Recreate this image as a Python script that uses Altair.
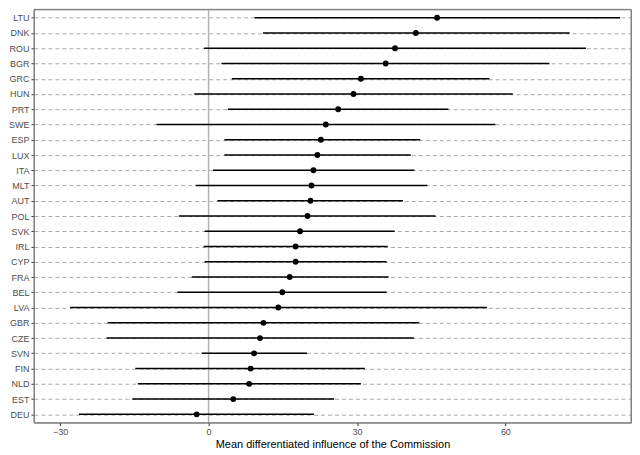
import altair as alt
import pandas as pd

countries = ["LTU", "DNK", "ROU", "BGR", "GRC", "HUN", "PRT", "SWE", "ESP", "LUX",
             "ITA", "MLT", "AUT", "POL", "SVK", "IRL", "CYP", "FRA", "BEL", "LVA",
             "GBR", "CZE", "SVN", "FIN", "NLD", "EST", "DEU"]
means = [46.2, 41.9, 37.7, 35.8, 30.8, 29.3, 26.2, 23.7, 22.7, 22.0,
         21.2, 20.8, 20.6, 20.0, 18.5, 17.6, 17.6, 16.4, 14.9, 14.1,
         11.1, 10.4, 9.2, 8.5, 8.2, 5.0, -2.4]
lower = [9.3, 11.0, -0.9, 2.6, 4.7, -2.9, 3.9, -10.5, 3.2, 3.2,
         0.9, -2.6, 1.8, -6.0, -0.8, -1.0, -0.8, -3.4, -6.3, -28.0,
         -20.4, -20.6, -1.4, -14.8, -14.3, -15.4, -26.2]
upper = [83.2, 73.0, 76.3, 68.9, 56.8, 61.5, 48.5, 58.0, 42.8, 40.9,
         41.6, 44.2, 39.3, 45.9, 37.6, 36.2, 36.0, 36.4, 36.0, 56.3,
         42.6, 41.5, 19.9, 31.6, 30.8, 25.4, 21.3]
x_ticks = [-30, 0, 30, 60]

df = pd.DataFrame({"country": countries, "mean": means, "lo": lower, "hi": upper})
zero = pd.DataFrame({"z": [0]})

FONT = "Liberation Sans"

xscale = alt.Scale(domain=[-35.3, 85.4], nice=False, zero=False)
yscale = alt.Scale(type="point", domain=countries, padding=0.55)

xaxis = alt.Axis(values=x_ticks, title="Mean differentiated influence of the Commission",
                 grid=False, labelFontSize=9, labelColor="#4d4d4d", titleFontSize=11,
                 titleColor="black", titleFontWeight="normal", tickColor="#333333",
                 tickSize=3, domain=False, labelPadding=2, titlePadding=2, labelFont=FONT,
                 titleFont=FONT)
yaxis = alt.Axis(title=None, grid=True, gridDash=[4, 3], gridColor="#aaaaaa", gridWidth=1,
                 labelFontSize=9, labelColor="#4d4d4d", tickColor="#333333", tickSize=3,
                 domain=False, labelPadding=2, labelFont=FONT)

frame = alt.Chart(zero).mark_rect(fill=None, stroke="#7f7f7f", strokeWidth=1).encode(
    x=alt.value(0), x2=alt.value("width"), y=alt.value(0), y2=alt.value("height")
)

vline = alt.Chart(zero).mark_rule(color="#b3b3b3", strokeWidth=1.5).encode(
    x=alt.X("z:Q", scale=xscale, axis=xaxis)
)

bars = alt.Chart(df).mark_rule(color="black", strokeWidth=1.4).encode(
    x=alt.X("lo:Q", scale=xscale, axis=xaxis),
    x2="hi:Q",
    y=alt.Y("country:N", scale=yscale, axis=yaxis, sort=countries),
)

pts = alt.Chart(df).mark_circle(color="black", size=34, opacity=1).encode(
    x=alt.X("mean:Q", scale=xscale, axis=xaxis),
    y=alt.Y("country:N", scale=yscale, axis=yaxis, sort=countries),
)

chart = (vline + bars + pts + frame).properties(
    width=598, height=414, padding={"left": 0, "top": 0, "right": 0, "bottom": 0},
    background="white",
).configure_view(stroke="#7f7f7f", strokeWidth=1)

chart.save("out.html", embed_options={"renderer": "svg", "actions": False})
